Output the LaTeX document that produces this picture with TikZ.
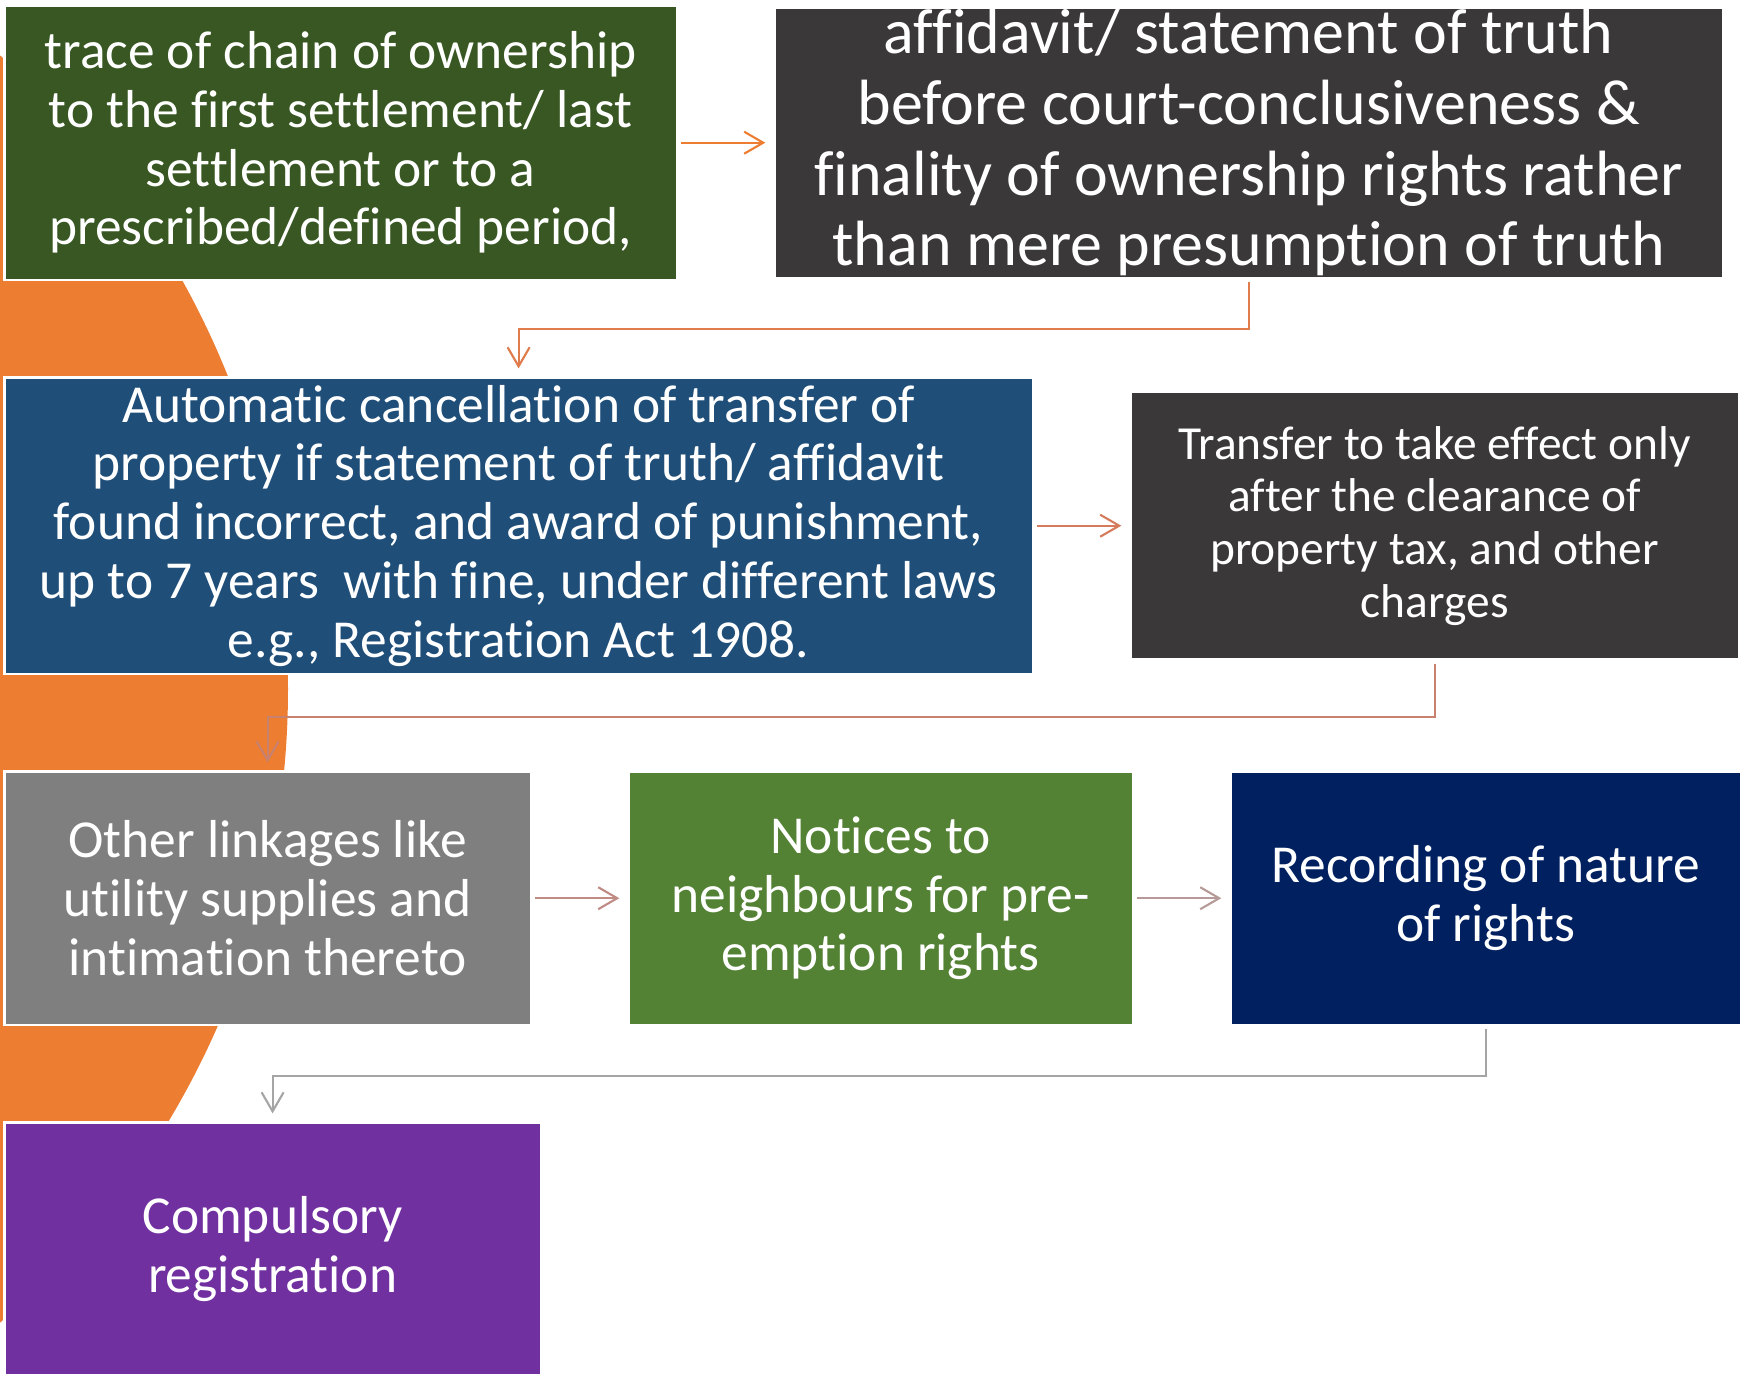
\documentclass[tikz,border=0pt]{standalone}
\usepackage{fontspec}
\setsansfont{Carlito}[Ligatures=NoCommon]
\usepackage{xcolor}
\definecolor{deepGreen}{HTML}{385723}
\definecolor{charcoal}{HTML}{3A3838}
\definecolor{steelBlue}{HTML}{1F4E79}
\definecolor{midGray}{HTML}{7F7F7F}
\definecolor{leafGreen}{HTML}{548235}
\definecolor{navyBlue}{HTML}{002060}
\definecolor{royalPurple}{HTML}{7030A0}
\definecolor{accentOrange}{HTML}{ED7D31}
% connector tones, fading from orange to gray
\definecolor{linkOrange}{HTML}{ED7D31}
\definecolor{linkCoral}{HTML}{E07B4B}
\definecolor{linkSalmon}{HTML}{D67A5C}
\definecolor{linkRose}{HTML}{C8806F}
\definecolor{linkDustyRose}{HTML}{BF8B84}
\definecolor{linkMauve}{HTML}{B69A97}
\definecolor{linkGray}{HTML}{A5A5A5}
\usepackage{tikz}
\usetikzlibrary{
    arrows.meta,
    positioning,
    backgrounds
}
\tikzset{
    % Base style for all boxes
    box base/.style={
        rectangle,
        font=\sffamily\fontsize{15.2}{16.7}\selectfont,
        align=center,
        text=white,
        draw=white,
        line width=0.75pt,
        inner sep=0pt,
        outer sep=0pt,
    },
    % Filled boxes, one per colour
    green box/.style={box base, fill=deepGreen},
    dark box/.style={box base, fill=charcoal},
    blue box/.style={box base, fill=steelBlue},
    gray box/.style={box base, fill=midGray},
    leaf box/.style={box base, fill=leafGreen},
    navy box/.style={box base, fill=navyBlue},
    purple box/.style={box base, fill=royalPurple},
    % Bottom row boxes share one height
    row box/.style={minimum height=25.36mm},
    % Thin connector with open tip
    arrow/.style={
        -{Straight Barb[length=1.9mm, width=2.2mm]},
        line width=0.6pt,
        shorten >=0.9mm,
        shorten <=0.4mm,
    },
    flow/.style={arrow, draw=#1},
}

\begin{document}
\begin{tikzpicture}[node distance=9.74mm]
    \useasboundingbox (0,0) rectangle (174.7mm,-137.3mm);

    \node (trace_chain) [green box, minimum width=67.26mm, minimum height=27.46mm, anchor=north west] at (0.43mm,-0.54mm)
        {trace of chain of ownership\\to the first settlement/ last\\settlement or to a\\prescribed/defined period,};
    \node (affidavit) [dark box, right=of trace_chain, minimum width=94.86mm, minimum height=27.1mm,
        font=\sffamily\fontsize{18.2}{20.1}\selectfont]
        {affidavit/ statement of truth\\before court-conclusiveness \&\\finality of ownership rights rather\\than mere presumption of truth};

    \node (auto_cancel) [blue box, below=of trace_chain.south west, anchor=north west, minimum width=102.86mm, minimum height=29.66mm]
        {Automatic cancellation of transfer of\\property if statement of truth/ affidavit\\found incorrect, and award of punishment,\\up to 7 years\ \ with fine, under different laws\\e.g., Registration Act 1908.};
    \node (tax_clear) [dark box, right=of auto_cancel, minimum width=60.86mm, minimum height=26.8mm,
        font=\sffamily\fontsize{13.5}{15}\selectfont]
        {Transfer to take effect only\\after the clearance of\\property tax, and other\\charges};

    \node (utility_link) [gray box, row box, below=of auto_cancel.south west, anchor=north west, minimum width=52.66mm]
        {Other linkages like\\utility supplies and\\intimation thereto};
    \node (notices) [leaf box, row box, right=of utility_link, minimum width=50.46mm]
        {Notices to\\neighbours for pre-\\emption rights};
    \node (rights_rec) [navy box, row box, right=of notices, minimum width=51.1mm]
        {Recording of nature\\of rights};

    \node (comp_reg) [purple box, row box, below=of utility_link.south west, anchor=north west, minimum width=53.66mm]
        {Compulsory\\registration};

    \draw [flow=linkOrange] (trace_chain) -- (affidavit);
    \draw [flow=linkCoral] (affidavit.south) -- ++(0,-5.1mm) -| (auto_cancel.north);
    \draw [flow=linkSalmon] (auto_cancel) -- (tax_clear);
    \draw [flow=linkRose] (tax_clear.south) -- ++(0,-5.7mm) -| (utility_link.north);
    \draw [flow=linkDustyRose] (utility_link) -- (notices);
    \draw [flow=linkMauve] (notices) -- (rights_rec);
    \draw [flow=linkGray] (rights_rec.south) -- ++(0,-5.1mm) -| (comp_reg.north);

    % orange disc peeking out behind the left column
    \begin{scope}[on background layer]
        \fill [white] (0,0) rectangle (174.7mm,-137.3mm);
        \clip (0,0) rectangle (174.7mm,-137.3mm);
        \fill [accentOrange] (-55.3mm,-68.9mm) circle (84.1mm);
    \end{scope}
\end{tikzpicture}
\end{document}
